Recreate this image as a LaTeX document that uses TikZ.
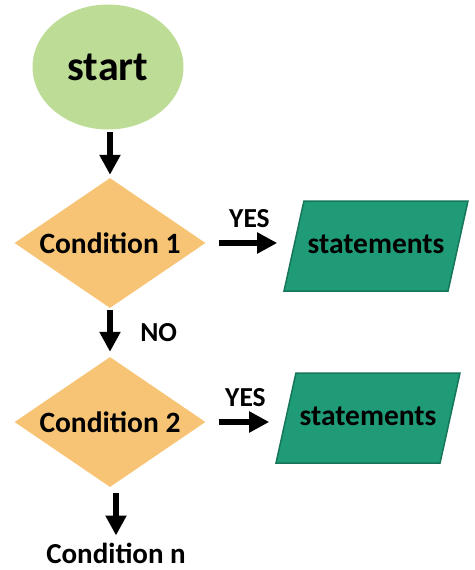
\documentclass[tikz,border=0pt]{standalone}
\usepackage{fontspec}
\setmainfont{Carlito}
\usetikzlibrary{shapes.geometric, arrows.meta}
\definecolor{startgreen}{HTML}{BDDC95}
\definecolor{condorange}{HTML}{F7C475}
\definecolor{stmtteal}{HTML}{1F9B78}
\definecolor{stmtedge}{HTML}{17765A}
\tikzset{term/.style = {ellipse, fill=startgreen, minimum width=151pt, minimum height=125pt, inner sep=0pt,
                        font=\bfseries\fontsize{42}{46}\selectfont},
           cond/.style = {diamond, fill=condorange, minimum width=191pt, minimum height=130pt, inner sep=0pt,
                          label={[font=\bfseries\fontsize{29.5}{32}\selectfont]center:#1}},
           stmt/.style = {trapezium, trapezium left angle=77.5, trapezium right angle=102.5, trapezium stretches body,
                          fill=stmtteal, draw=stmtedge, line width=1.5pt, minimum width=184pt,
                          text height=20pt, text depth=6pt, inner ysep=32pt, inner xsep=2pt,
                          font=\bfseries\fontsize{29.5}{32}\selectfont},
           arr/.style = {line width=6.5pt, -{Triangle[width=20pt, length=20pt]}},
           lbl/.style = {font=\bfseries\fontsize{27.5}{30}\selectfont, inner sep=0pt}}

\begin{document}
\begin{tikzpicture}[x=1pt, y=-1pt]
    \useasboundingbox (0,0) rectangle (474,570);
    \node[term] (start) at (108,67) {start};
    \node[cond=Condition 1] (c1) at (110,243) {};
    \node[cond=Condition 2] (c2) at (110,422) {};
    \node[stmt] (s1) at (376,246) {statements};
    \node[stmt] (s2) at (368,418) {statements};
    \node[lbl, font=\bfseries\fontsize{29}{32}\selectfont] (cn) at (116,553) {Condition n};
    \draw[arr, shorten <=2pt, shorten >=3pt] (start.south -| c1.north) -- (c1.north);
    \draw[arr, shorten <=13pt, shorten >=16pt] (c1.east) -- (c1.east -| s1.west)
        node[lbl, midway, above=12pt] {YES};
    \draw[arr, shorten <=2pt, shorten >=5pt] (c1.south) -- (c2.north)
        node[lbl, midway, right=27pt] {NO};
    \draw[arr, shorten <=13pt, shorten >=16pt] (c2.east) -- (c2.east -| s2.west)
        node[lbl, midway, above=12pt] {YES};
    \draw[arr, shorten <=6pt, shorten >=7pt] (c2.south -| cn.north) -- (cn.north);
\end{tikzpicture}
\end{document}
